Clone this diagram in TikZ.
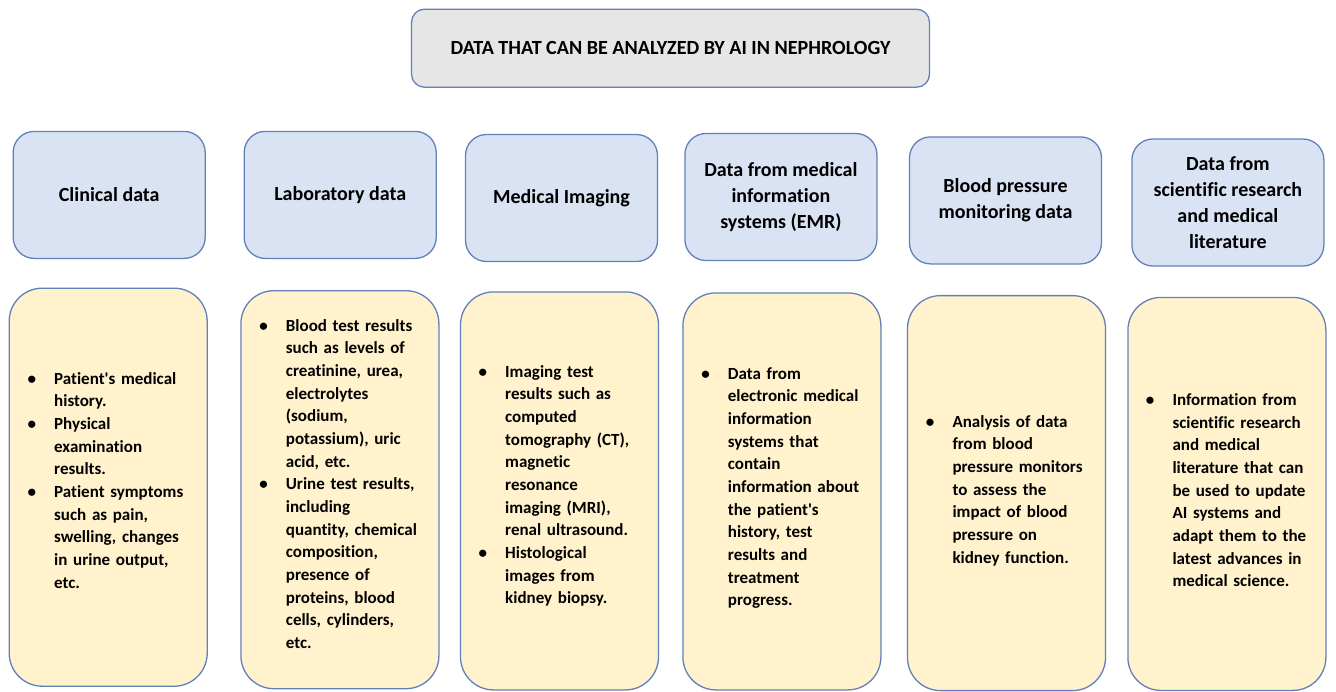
\documentclass[tikz,border=0pt]{standalone}
\usepackage{fontspec}
\setmainfont{Carlito}[Ligatures={TeX,NoCommon}]
\definecolor{edge}{RGB}{98,128,186}
\definecolor{greyfill}{RGB}{231,230,230}
\definecolor{bluefill}{RGB}{218,227,243}
\definecolor{yellowfill}{RGB}{255,242,204}
% bullet and hanging indent for the detail lists
\newcommand{\itembul}{\makebox[44.8pt][c]{\textbullet}}
\newcommand{\itemind}{\hspace*{44.8pt}}
\begin{document}
\begin{tikzpicture}[x=1pt,y=-1pt,
  hdr/.style={draw=edge, line width=1.3pt, fill=greyfill, rounded corners=13pt,
    minimum width=518pt, minimum height=78pt, inner sep=0pt,
    font=\fontsize{20.1}{24}\selectfont\bfseries},
  cat/.style={draw=edge, line width=1.3pt, fill=bluefill, rounded corners=21pt,
    minimum width=192pt, minimum height=127pt, inner sep=0pt, align=center,
    font=\fontsize{20}{26}\selectfont\bfseries},
  detail/.style={draw=edge, line width=1.3pt, fill=yellowfill, rounded corners=33pt,
    minimum width=198pt, inner sep=0pt},
  items/.style={anchor=base west, text width=190pt, align=left, inner sep=0pt,
    font=\fontsize{17}{22.67}\selectfont\bfseries}
]
\useasboundingbox (0,0) rectangle (1336,691);

% title
\node[hdr] (title) at (670.5,48.2) {DATA THAT CAN BE ANALYZED BY AI IN NEPHROLOGY};

% categories
\node[cat] (c1) at (109.2,194.9) {Clinical data};
\node[cat] (c2) at (340.2,194.9) {Laboratory data};
\node[cat] (c3) at (561.5,198.0) {Medical Imaging};
\node[cat] (c4) at (780.9,197.0) {Data from medical\\information\\systems (EMR)};
\node[cat] (c5) at (1005.5,200.4) {Blood pressure\\monitoring data};
\node[cat] (c6) at (1227.9,202.5) {Data from\\scientific research\\and medical\\literature};

% detail panels
\node[detail, minimum height=398pt] (d1) at (108.2,487.2) {};
\node[detail, minimum height=398pt] (d2) at (339.9,489.7) {};
\node[detail, minimum height=398pt] (d3) at (559.5,490.9) {};
\node[detail, minimum height=397pt] (d4) at (781.9,491.4) {};
\node[detail, minimum height=395pt] (d5) at (1006.5,493.1) {};
\node[detail, minimum height=393pt] (d6) at (1226.9,493.9) {};

% detail lists
\node[items] (l1) at (9.2,384) {%
\itembul Patient\textquotesingle s medical\\
\itemind history.\\
\itembul Physical\\
\itemind examination\\
\itemind results.\\
\itembul Patient symptoms\\
\itemind such as pain,\\
\itemind swelling, changes\\
\itemind in urine output,\\
\itemind etc.};

\node[items] (l2) at (240.9,331) {%
\itembul Blood test results\\
\itemind such as levels of\\
\itemind creatinine, urea,\\
\itemind electrolytes\\
\itemind (sodium,\\
\itemind potassium), uric\\
\itemind acid, etc.\\
\itembul Urine test results,\\
\itemind including\\
\itemind quantity, chemical\\
\itemind composition,\\
\itemind presence of\\
\itemind proteins, blood\\
\itemind cells, cylinders,\\
\itemind etc.};

\node[items] (l3) at (460.2,377) {%
\itembul Imaging test\\
\itemind results such as\\
\itemind computed\\
\itemind tomography (CT),\\
\itemind magnetic\\
\itemind resonance\\
\itemind imaging (MRI),\\
\itemind renal ultrasound.\\
\itembul Histological\\
\itemind images from\\
\itemind kidney biopsy.};

\node[items] (l4) at (682.9,379) {%
\itembul Data from\\
\itemind electronic medical\\
\itemind information\\
\itemind systems that\\
\itemind contain\\
\itemind information about\\
\itemind the patient\textquotesingle s\\
\itemind history, test\\
\itemind results and\\
\itemind treatment\\
\itemind progress.};

\node[items] (l5) at (907.5,427) {%
\itembul Analysis of data\\
\itemind from blood\\
\itemind pressure monitors\\
\itemind to assess the\\
\itemind impact of blood\\
\itemind pressure on\\
\itemind kidney function.};

\node[items] (l6) at (1127.5,405.5) {%
\itembul Information from\\
\itemind scientific research\\
\itemind and medical\\
\itemind literature that can\\
\itemind be used to update\\
\itemind AI systems and\\
\itemind adapt them to the\\
\itemind latest advances in\\
\itemind medical science.};
\end{tikzpicture}
\end{document}
